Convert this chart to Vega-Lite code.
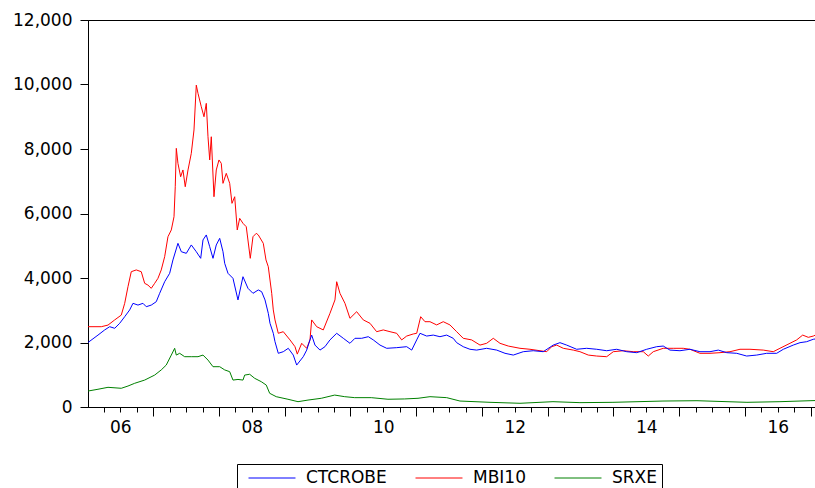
{
  "$schema": "https://vega.github.io/schema/vega-lite/v6.json",
  "autosize": "none",
  "width": 728,
  "height": 387,
  "padding": {"left": 88, "top": 20, "right": 0, "bottom": 81},
  "background": "white",
  "config": {
    "view": {"stroke": "black", "strokeWidth": 1},
    "axis": {"labelFont": "DejaVu Sans", "labelFontSize": 17, "labelColor": "black", "domainColor": "black", "tickColor": "black", "grid": false, "title": null},
    "legend": {"labelFont": "DejaVu Sans", "labelFontSize": 17, "labelColor": "black"}
  },
  "datasets": {
    "series": [
      {"t":2006.008,"s":"MBI10","v":2490},{"t":2006.210,"s":"MBI10","v":2490},{"t":2006.312,"s":"MBI10","v":2540},{"t":2006.414,"s":"MBI10","v":2700},{"t":2006.514,"s":"MBI10","v":2850},{"t":2006.566,"s":"MBI10","v":3215},{"t":2006.616,"s":"MBI10","v":3730},{"t":2006.666,"s":"MBI10","v":4195},{"t":2006.742,"s":"MBI10","v":4250},{"t":2006.818,"s":"MBI10","v":4195},{"t":2006.870,"s":"MBI10","v":3835},{"t":2006.920,"s":"MBI10","v":3780},{"t":2006.970,"s":"MBI10","v":3680},{"t":2007.022,"s":"MBI10","v":3835},{"t":2007.072,"s":"MBI10","v":3990},{"t":2007.122,"s":"MBI10","v":4250},{"t":2007.174,"s":"MBI10","v":4660},{"t":2007.224,"s":"MBI10","v":5280},{"t":2007.275,"s":"MBI10","v":5490},{"t":2007.316,"s":"MBI10","v":5900},{"t":2007.335,"s":"MBI10","v":6830},{"t":2007.351,"s":"MBI10","v":8020},{"t":2007.376,"s":"MBI10","v":7555},{"t":2007.417,"s":"MBI10","v":7140},{"t":2007.452,"s":"MBI10","v":7350},{"t":2007.487,"s":"MBI10","v":6830},{"t":2007.529,"s":"MBI10","v":7350},{"t":2007.579,"s":"MBI10","v":7865},{"t":2007.620,"s":"MBI10","v":8590},{"t":2007.655,"s":"MBI10","v":9980},{"t":2007.681,"s":"MBI10","v":9725},{"t":2007.731,"s":"MBI10","v":9310},{"t":2007.772,"s":"MBI10","v":9000},{"t":2007.807,"s":"MBI10","v":9415},{"t":2007.833,"s":"MBI10","v":8380},{"t":2007.859,"s":"MBI10","v":7660},{"t":2007.883,"s":"MBI10","v":8380},{"t":2007.924,"s":"MBI10","v":6520},{"t":2007.959,"s":"MBI10","v":7350},{"t":2008.000,"s":"MBI10","v":7660},{"t":2008.035,"s":"MBI10","v":7555},{"t":2008.061,"s":"MBI10","v":6935},{"t":2008.111,"s":"MBI10","v":7245},{"t":2008.163,"s":"MBI10","v":6935},{"t":2008.198,"s":"MBI10","v":6315},{"t":2008.239,"s":"MBI10","v":6520},{"t":2008.278,"s":"MBI10","v":5490},{"t":2008.315,"s":"MBI10","v":5850},{"t":2008.365,"s":"MBI10","v":5695},{"t":2008.415,"s":"MBI10","v":5590},{"t":2008.476,"s":"MBI10","v":4610},{"t":2008.517,"s":"MBI10","v":5280},{"t":2008.567,"s":"MBI10","v":5385},{"t":2008.598,"s":"MBI10","v":5335},{"t":2008.674,"s":"MBI10","v":5075},{"t":2008.715,"s":"MBI10","v":4560},{"t":2008.750,"s":"MBI10","v":4350},{"t":2008.802,"s":"MBI10","v":3525},{"t":2008.826,"s":"MBI10","v":3010},{"t":2008.852,"s":"MBI10","v":2700},{"t":2008.902,"s":"MBI10","v":2285},{"t":2008.978,"s":"MBI10","v":2335},{"t":2009.080,"s":"MBI10","v":2080},{"t":2009.156,"s":"MBI10","v":1870},{"t":2009.191,"s":"MBI10","v":1640},{"t":2009.258,"s":"MBI10","v":1975},{"t":2009.334,"s":"MBI10","v":1820},{"t":2009.384,"s":"MBI10","v":2080},{"t":2009.410,"s":"MBI10","v":2700},{"t":2009.486,"s":"MBI10","v":2490},{"t":2009.586,"s":"MBI10","v":2390},{"t":2009.688,"s":"MBI10","v":2905},{"t":2009.764,"s":"MBI10","v":3320},{"t":2009.790,"s":"MBI10","v":3885},{"t":2009.840,"s":"MBI10","v":3525},{"t":2009.916,"s":"MBI10","v":3215},{"t":2009.992,"s":"MBI10","v":2750},{"t":2010.094,"s":"MBI10","v":2955},{"t":2010.195,"s":"MBI10","v":2700},{"t":2010.297,"s":"MBI10","v":2595},{"t":2010.398,"s":"MBI10","v":2335},{"t":2010.499,"s":"MBI10","v":2390},{"t":2010.601,"s":"MBI10","v":2335},{"t":2010.703,"s":"MBI10","v":2285},{"t":2010.779,"s":"MBI10","v":2080},{"t":2010.855,"s":"MBI10","v":2200},{"t":2010.955,"s":"MBI10","v":2265},{"t":2011.007,"s":"MBI10","v":2285},{"t":2011.068,"s":"MBI10","v":2800},{"t":2011.133,"s":"MBI10","v":2645},{"t":2011.209,"s":"MBI10","v":2645},{"t":2011.311,"s":"MBI10","v":2545},{"t":2011.411,"s":"MBI10","v":2645},{"t":2011.513,"s":"MBI10","v":2545},{"t":2011.615,"s":"MBI10","v":2335},{"t":2011.715,"s":"MBI10","v":2130},{"t":2011.843,"s":"MBI10","v":2080},{"t":2011.970,"s":"MBI10","v":1920},{"t":2012.071,"s":"MBI10","v":1975},{"t":2012.172,"s":"MBI10","v":2130},{"t":2012.274,"s":"MBI10","v":1975},{"t":2012.400,"s":"MBI10","v":1890},{"t":2012.578,"s":"MBI10","v":1820},{"t":2012.730,"s":"MBI10","v":1790},{"t":2012.882,"s":"MBI10","v":1745},{"t":2012.984,"s":"MBI10","v":1715},{"t":2013.060,"s":"MBI10","v":1870},{"t":2013.136,"s":"MBI10","v":1920},{"t":2013.237,"s":"MBI10","v":1820},{"t":2013.389,"s":"MBI10","v":1765},{"t":2013.490,"s":"MBI10","v":1715},{"t":2013.617,"s":"MBI10","v":1610},{"t":2013.744,"s":"MBI10","v":1580},{"t":2013.897,"s":"MBI10","v":1560},{"t":2013.997,"s":"MBI10","v":1715},{"t":2014.149,"s":"MBI10","v":1745},{"t":2014.301,"s":"MBI10","v":1715},{"t":2014.453,"s":"MBI10","v":1715},{"t":2014.529,"s":"MBI10","v":1580},{"t":2014.605,"s":"MBI10","v":1715},{"t":2014.757,"s":"MBI10","v":1820},{"t":2014.909,"s":"MBI10","v":1820},{"t":2015.061,"s":"MBI10","v":1820},{"t":2015.163,"s":"MBI10","v":1790},{"t":2015.315,"s":"MBI10","v":1665},{"t":2015.468,"s":"MBI10","v":1665},{"t":2015.620,"s":"MBI10","v":1685},{"t":2015.772,"s":"MBI10","v":1715},{"t":2015.924,"s":"MBI10","v":1790},{"t":2016.076,"s":"MBI10","v":1790},{"t":2016.278,"s":"MBI10","v":1765},{"t":2016.430,"s":"MBI10","v":1715},{"t":2016.532,"s":"MBI10","v":1820},{"t":2016.684,"s":"MBI10","v":1975},{"t":2016.786,"s":"MBI10","v":2080},{"t":2016.878,"s":"MBI10","v":2230},{"t":2016.963,"s":"MBI10","v":2160},{"t":2017.039,"s":"MBI10","v":2200},{"t":2017.070,"s":"MBI10","v":2230},

      {"t":2006.008,"s":"CTCROBE","v":2000},{"t":2006.160,"s":"CTCROBE","v":2230},{"t":2006.262,"s":"CTCROBE","v":2390},{"t":2006.338,"s":"CTCROBE","v":2490},{"t":2006.414,"s":"CTCROBE","v":2440},{"t":2006.490,"s":"CTCROBE","v":2595},{"t":2006.566,"s":"CTCROBE","v":2800},{"t":2006.642,"s":"CTCROBE","v":3010},{"t":2006.692,"s":"CTCROBE","v":3215},{"t":2006.768,"s":"CTCROBE","v":3160},{"t":2006.844,"s":"CTCROBE","v":3215},{"t":2006.894,"s":"CTCROBE","v":3110},{"t":2006.970,"s":"CTCROBE","v":3160},{"t":2007.046,"s":"CTCROBE","v":3265},{"t":2007.098,"s":"CTCROBE","v":3525},{"t":2007.174,"s":"CTCROBE","v":3885},{"t":2007.250,"s":"CTCROBE","v":4145},{"t":2007.300,"s":"CTCROBE","v":4560},{"t":2007.376,"s":"CTCROBE","v":5075},{"t":2007.427,"s":"CTCROBE","v":4815},{"t":2007.503,"s":"CTCROBE","v":4765},{"t":2007.579,"s":"CTCROBE","v":5025},{"t":2007.655,"s":"CTCROBE","v":4815},{"t":2007.722,"s":"CTCROBE","v":4610},{"t":2007.757,"s":"CTCROBE","v":5180},{"t":2007.807,"s":"CTCROBE","v":5335},{"t":2007.859,"s":"CTCROBE","v":4970},{"t":2007.909,"s":"CTCROBE","v":4610},{"t":2007.959,"s":"CTCROBE","v":5025},{"t":2008.011,"s":"CTCROBE","v":5230},{"t":2008.061,"s":"CTCROBE","v":4815},{"t":2008.087,"s":"CTCROBE","v":4455},{"t":2008.137,"s":"CTCROBE","v":4145},{"t":2008.213,"s":"CTCROBE","v":3990},{"t":2008.289,"s":"CTCROBE","v":3320},{"t":2008.365,"s":"CTCROBE","v":4040},{"t":2008.441,"s":"CTCROBE","v":3680},{"t":2008.517,"s":"CTCROBE","v":3525},{"t":2008.598,"s":"CTCROBE","v":3630},{"t":2008.649,"s":"CTCROBE","v":3575},{"t":2008.700,"s":"CTCROBE","v":3320},{"t":2008.750,"s":"CTCROBE","v":2905},{"t":2008.776,"s":"CTCROBE","v":2595},{"t":2008.826,"s":"CTCROBE","v":2285},{"t":2008.852,"s":"CTCROBE","v":2025},{"t":2008.902,"s":"CTCROBE","v":1665},{"t":2008.978,"s":"CTCROBE","v":1715},{"t":2009.054,"s":"CTCROBE","v":1820},{"t":2009.130,"s":"CTCROBE","v":1610},{"t":2009.182,"s":"CTCROBE","v":1300},{"t":2009.282,"s":"CTCROBE","v":1560},{"t":2009.334,"s":"CTCROBE","v":1765},{"t":2009.384,"s":"CTCROBE","v":2080},{"t":2009.410,"s":"CTCROBE","v":2230},{"t":2009.460,"s":"CTCROBE","v":1920},{"t":2009.536,"s":"CTCROBE","v":1765},{"t":2009.612,"s":"CTCROBE","v":1870},{"t":2009.688,"s":"CTCROBE","v":2080},{"t":2009.790,"s":"CTCROBE","v":2285},{"t":2009.891,"s":"CTCROBE","v":2130},{"t":2009.992,"s":"CTCROBE","v":1975},{"t":2010.068,"s":"CTCROBE","v":2130},{"t":2010.170,"s":"CTCROBE","v":2130},{"t":2010.271,"s":"CTCROBE","v":2180},{"t":2010.347,"s":"CTCROBE","v":2080},{"t":2010.449,"s":"CTCROBE","v":1920},{"t":2010.551,"s":"CTCROBE","v":1820},{"t":2010.703,"s":"CTCROBE","v":1840},{"t":2010.855,"s":"CTCROBE","v":1870},{"t":2010.931,"s":"CTCROBE","v":1765},{"t":2011.007,"s":"CTCROBE","v":2080},{"t":2011.057,"s":"CTCROBE","v":2285},{"t":2011.159,"s":"CTCROBE","v":2200},{"t":2011.259,"s":"CTCROBE","v":2230},{"t":2011.361,"s":"CTCROBE","v":2180},{"t":2011.463,"s":"CTCROBE","v":2230},{"t":2011.563,"s":"CTCROBE","v":2130},{"t":2011.615,"s":"CTCROBE","v":1995},{"t":2011.715,"s":"CTCROBE","v":1870},{"t":2011.817,"s":"CTCROBE","v":1790},{"t":2011.919,"s":"CTCROBE","v":1765},{"t":2012.071,"s":"CTCROBE","v":1820},{"t":2012.224,"s":"CTCROBE","v":1765},{"t":2012.350,"s":"CTCROBE","v":1665},{"t":2012.476,"s":"CTCROBE","v":1610},{"t":2012.628,"s":"CTCROBE","v":1715},{"t":2012.780,"s":"CTCROBE","v":1745},{"t":2012.932,"s":"CTCROBE","v":1715},{"t":2013.084,"s":"CTCROBE","v":1920},{"t":2013.186,"s":"CTCROBE","v":1995},{"t":2013.288,"s":"CTCROBE","v":1920},{"t":2013.440,"s":"CTCROBE","v":1790},{"t":2013.592,"s":"CTCROBE","v":1820},{"t":2013.744,"s":"CTCROBE","v":1790},{"t":2013.897,"s":"CTCROBE","v":1745},{"t":2014.049,"s":"CTCROBE","v":1790},{"t":2014.201,"s":"CTCROBE","v":1715},{"t":2014.353,"s":"CTCROBE","v":1685},{"t":2014.505,"s":"CTCROBE","v":1790},{"t":2014.657,"s":"CTCROBE","v":1870},{"t":2014.757,"s":"CTCROBE","v":1890},{"t":2014.859,"s":"CTCROBE","v":1765},{"t":2015.011,"s":"CTCROBE","v":1745},{"t":2015.163,"s":"CTCROBE","v":1790},{"t":2015.315,"s":"CTCROBE","v":1715},{"t":2015.468,"s":"CTCROBE","v":1715},{"t":2015.594,"s":"CTCROBE","v":1765},{"t":2015.722,"s":"CTCROBE","v":1685},{"t":2015.874,"s":"CTCROBE","v":1665},{"t":2016.026,"s":"CTCROBE","v":1580},{"t":2016.178,"s":"CTCROBE","v":1610},{"t":2016.330,"s":"CTCROBE","v":1665},{"t":2016.482,"s":"CTCROBE","v":1665},{"t":2016.583,"s":"CTCROBE","v":1790},{"t":2016.734,"s":"CTCROBE","v":1920},{"t":2016.837,"s":"CTCROBE","v":1995},{"t":2016.938,"s":"CTCROBE","v":2025},{"t":2017.039,"s":"CTCROBE","v":2100},{"t":2017.070,"s":"CTCROBE","v":2110},

      {"t":2006.008,"s":"SRXE","v":495},{"t":2006.160,"s":"SRXE","v":550},{"t":2006.312,"s":"SRXE","v":610},{"t":2006.514,"s":"SRXE","v":580},{"t":2006.616,"s":"SRXE","v":650},{"t":2006.718,"s":"SRXE","v":735},{"t":2006.870,"s":"SRXE","v":835},{"t":2007.022,"s":"SRXE","v":990},{"t":2007.122,"s":"SRXE","v":1150},{"t":2007.198,"s":"SRXE","v":1300},{"t":2007.275,"s":"SRXE","v":1610},{"t":2007.326,"s":"SRXE","v":1820},{"t":2007.351,"s":"SRXE","v":1610},{"t":2007.402,"s":"SRXE","v":1665},{"t":2007.478,"s":"SRXE","v":1560},{"t":2007.579,"s":"SRXE","v":1560},{"t":2007.681,"s":"SRXE","v":1560},{"t":2007.757,"s":"SRXE","v":1610},{"t":2007.833,"s":"SRXE","v":1455},{"t":2007.909,"s":"SRXE","v":1250},{"t":2008.011,"s":"SRXE","v":1250},{"t":2008.087,"s":"SRXE","v":1150},{"t":2008.163,"s":"SRXE","v":1095},{"t":2008.213,"s":"SRXE","v":835},{"t":2008.289,"s":"SRXE","v":855},{"t":2008.365,"s":"SRXE","v":835},{"t":2008.391,"s":"SRXE","v":990},{"t":2008.467,"s":"SRXE","v":1015},{"t":2008.543,"s":"SRXE","v":890},{"t":2008.643,"s":"SRXE","v":785},{"t":2008.719,"s":"SRXE","v":680},{"t":2008.771,"s":"SRXE","v":425},{"t":2008.871,"s":"SRXE","v":320},{"t":2009.049,"s":"SRXE","v":240},{"t":2009.202,"s":"SRXE","v":165},{"t":2009.354,"s":"SRXE","v":215},{"t":2009.556,"s":"SRXE","v":270},{"t":2009.760,"s":"SRXE","v":370},{"t":2009.912,"s":"SRXE","v":320},{"t":2010.064,"s":"SRXE","v":290},{"t":2010.316,"s":"SRXE","v":290},{"t":2010.570,"s":"SRXE","v":240},{"t":2010.824,"s":"SRXE","v":250},{"t":2011.027,"s":"SRXE","v":270},{"t":2011.209,"s":"SRXE","v":320},{"t":2011.463,"s":"SRXE","v":290},{"t":2011.665,"s":"SRXE","v":185},{"t":2012.122,"s":"SRXE","v":145},{"t":2012.578,"s":"SRXE","v":115},{"t":2013.080,"s":"SRXE","v":165},{"t":2013.490,"s":"SRXE","v":135},{"t":2013.992,"s":"SRXE","v":145},{"t":2014.753,"s":"SRXE","v":185},{"t":2015.270,"s":"SRXE","v":195},{"t":2016.030,"s":"SRXE","v":145},{"t":2016.532,"s":"SRXE","v":165},{"t":2016.989,"s":"SRXE","v":195},{"t":2017.070,"s":"SRXE","v":200}
    ]
  },
  "data": {"name": "series"},
  "mark": {"type": "line", "strokeWidth": 1, "clip": true},
  "encoding": {
    "x": {
      "field": "t", "type": "quantitative",
      "scale": {"domain": [2006.008, 2017.08], "nice": false, "zero": false},
      "axis": {
        "values": [2006.25,2006.5,2006.75,2007,2007.25,2007.5,2007.75,2008,2008.25,2008.5,2008.75,2009,2009.25,2009.5,2009.75,2010,2010.25,2010.5,2010.75,2011,2011.25,2011.5,2011.75,2012,2012.25,2012.5,2012.75,2013,2013.25,2013.5,2013.75,2014,2014.25,2014.5,2014.75,2015,2015.25,2015.5,2015.75,2016,2016.25,2016.5,2016.75,2017],
        "labelExpr": "datum.value % 2 == 0.5 ? slice(toString(floor(datum.value)), 2) : ''",
        "labelOverlap": false,
        "labelFlush": false,
        "labelBound": false,
        "tickSize": {"condition": {"test": "datum.value % 1 == 0", "value": 9}, "value": 5},
        "labelPadding": 7
      }
    },
    "y": {
      "field": "v", "type": "quantitative",
      "scale": {"domain": [0, 12000], "nice": false},
      "axis": {"values": [0,2000,4000,6000,8000,10000,12000], "format": ",d", "tickSize": 8, "labelPadding": 8}
    },
    "color": {
      "field": "s", "type": "nominal",
      "scale": {"domain": ["CTCROBE", "MBI10", "SRXE"], "range": ["#0000FF", "#FF0000", "#008000"]},
      "legend": {
        "title": null,
        "orient": "none",
        "direction": "horizontal",
        "legendX": 149,
        "legendY": 444,
        "strokeColor": "black",
        "fillColor": "white",
        "padding": 5,
        "symbolType": "M-0.294,0H5.235",
        "symbolSize": 289,
        "symbolStrokeWidth": 1,
        "symbolFillColor": "transparent",
        "labelOffset": 46,
        "columnPadding": 22
      }
    }
  }
}
